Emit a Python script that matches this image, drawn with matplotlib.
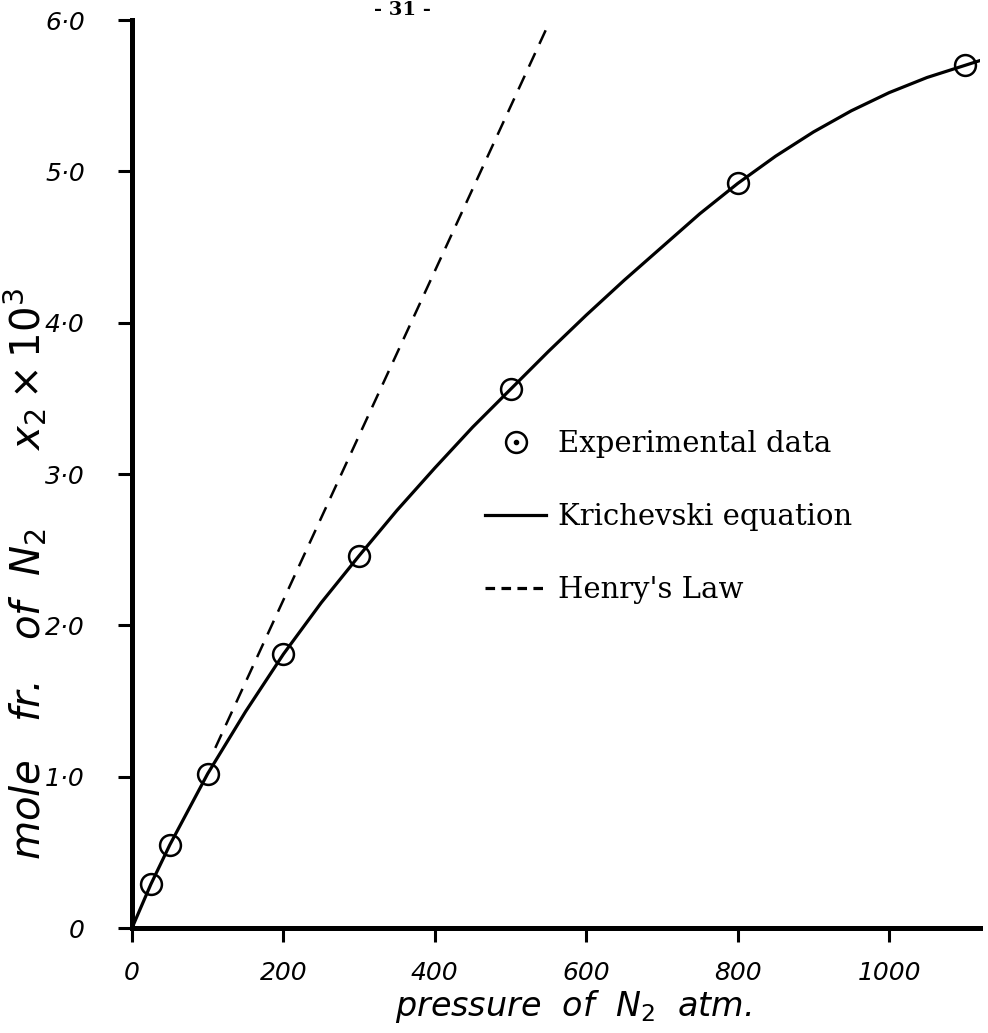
import matplotlib
matplotlib.use('Agg')
from matplotlib import pyplot as plt
from matplotlib.lines import Line2D
from matplotlib.legend_handler import HandlerTuple

# experimental points (pressure in atm, mole fraction x 10^3)
exp_p = [25, 50, 100, 200, 300, 500, 800, 1100]
exp_x = [0.29, 0.55, 1.02, 1.81, 2.46, 3.56, 4.92, 5.70]

# Krichevski curve
kr_p = [0, 25, 50, 100, 150, 200, 250, 300, 350, 400, 450, 500, 550, 600, 650,
        700, 750, 800, 850, 900, 950, 1000, 1050, 1100, 1125]
kr_x = [0.0, 0.29, 0.55, 1.02, 1.43, 1.81, 2.15, 2.46, 2.76, 3.04, 3.31, 3.56, 3.81,
        4.05, 4.28, 4.50, 4.72, 4.92, 5.10, 5.26, 5.40, 5.52, 5.62, 5.70, 5.74]

# Henry's law straight line (drawn part, it leaves the curve near 110 atm)
hl_p = [110, 548]
hl_x = [1.19, 5.95]

x_ticks = [0, 200, 400, 600, 800, 1000]
y_ticks = [0, 1, 2, 3, 4, 5, 6]
y_tick_labels = ['0', '1·0', '2·0', '3·0', '4·0', '5·0', '6·0']

plt.rcParams['mathtext.fontset'] = 'dejavusans'

fig = plt.figure(figsize=(9.88, 10.33), dpi=100)
ax = fig.add_axes([132 / 988, 1 - 928 / 1033, 848 / 988, 908 / 1033])

ax.plot(kr_p, kr_x, c='black', lw=2.3, solid_capstyle='round')
ax.plot(hl_p, hl_x, c='black', lw=1.8, dashes=(6, 4))
ax.plot(exp_p, exp_x, ls='none', marker='o', ms=15, mfc='none', mec='black', mew=1.8)

ax.set_xlim(0, 1120)
ax.set_ylim(0, 6.0)

for side in ['top', 'right']:
    ax.spines[side].set_visible(False)
for side in ['left', 'bottom']:
    ax.spines[side].set_linewidth(3.6)

ax.set_xticks(x_ticks)
ax.set_xticklabels([str(t) for t in x_ticks], fontstyle='italic', fontsize=18)
ax.set_yticks(y_ticks)
ax.set_yticklabels(y_tick_labels, fontstyle='italic', fontsize=18)
ax.tick_params(axis='both', direction='out', length=10, width=2.2, pad=14)
ax.tick_params(axis='y', pad=24)

ax.set_xlabel(r'pressure  of  $N_2$  atm.', fontsize=24, fontstyle='italic')
ax.xaxis.set_label_coords(0.52, -0.066)
ax.set_ylabel(r'mole   fr.   of  $N_2$      $x_2 \times 10^3$', fontsize=29, fontstyle='italic')
ax.yaxis.set_label_coords(-0.098, 0.39)

# legend
h_exp = (Line2D([], [], ls='none', marker='o', ms=15, mfc='none', mec='black', mew=1.8),
         Line2D([], [], ls='none', marker='o', ms=3, mfc='black', mec='black'))
h_kr = Line2D([], [], c='black', lw=2.3)
h_hl = Line2D([], [], c='black', lw=2.3, dashes=(3, 2))
leg = ax.legend([h_exp, h_kr, h_hl],
                ['Experimental data', 'Krichevski equation', "Henry's Law"],
                handler_map={tuple: HandlerTuple(ndivide=1, pad=0)},
                loc='upper left', bbox_to_anchor=(485 / 988, 1 - 430 / 1033),
                bbox_transform=fig.transFigure, frameon=False,
                prop={'family': 'DejaVu Serif', 'size': 21},
                handlelength=2.1, handletextpad=0.4, labelspacing=1.55,
                borderpad=0, borderaxespad=0)

# page number at top of the scanned page
fig.text(402 / 988, 0.999, '- 31 -', ha='center', va='top',
         fontsize=14, fontweight='bold', family='DejaVu Serif')

fig.savefig('out.png', dpi=100)
